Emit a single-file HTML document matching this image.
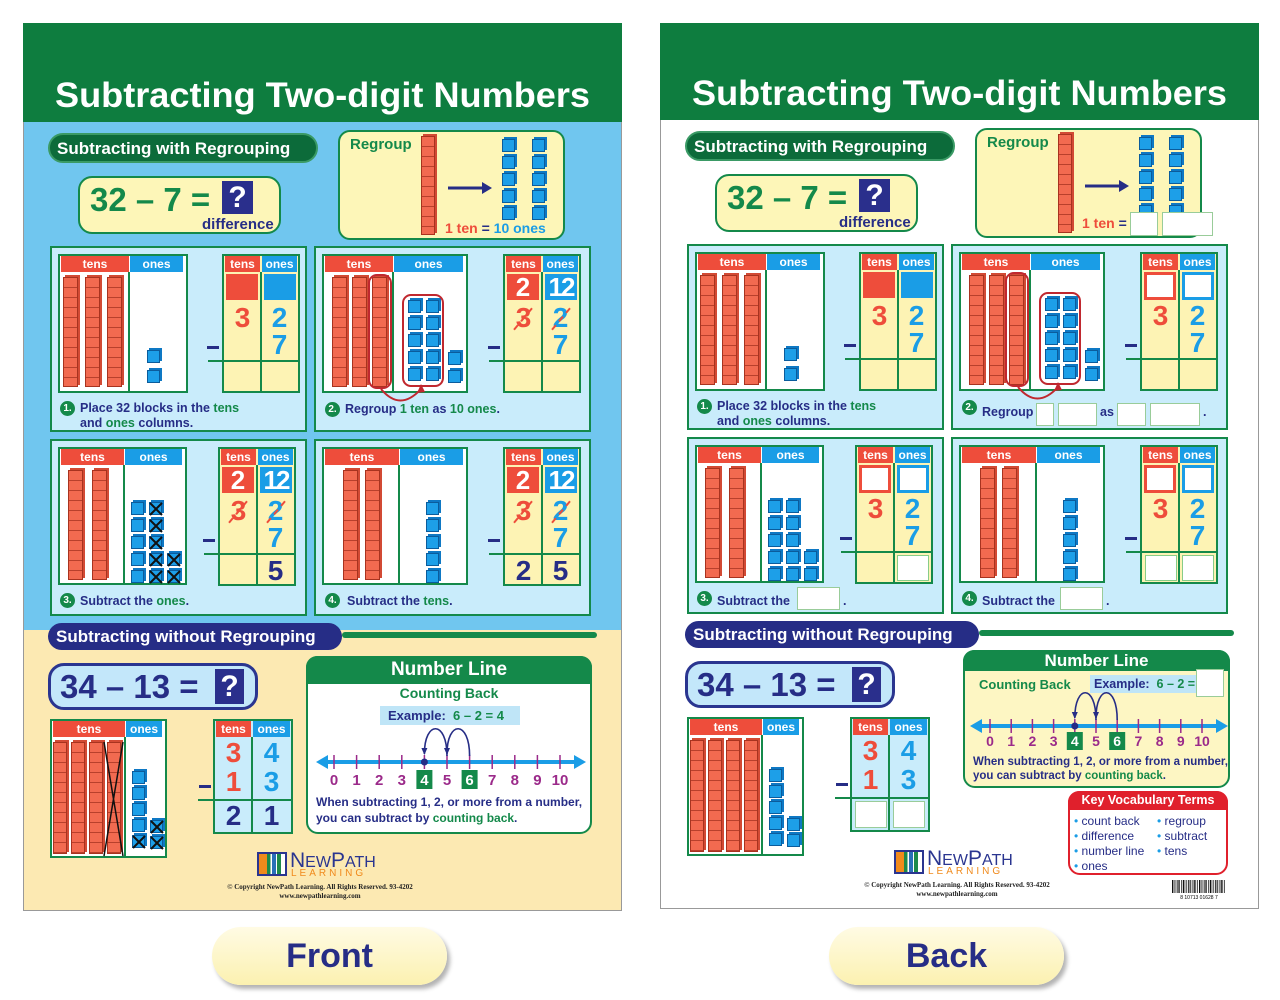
<!DOCTYPE html>
<html><head><meta charset="utf-8"><style>
body{margin:0;width:1280px;height:1000px;background:#fff;position:relative;overflow:hidden;font-family:"Liberation Sans",sans-serif}
.a{position:absolute;box-sizing:border-box}
.t{position:absolute;font-family:"Liberation Sans",sans-serif;font-weight:bold;white-space:nowrap;box-sizing:border-box}
g1{color:#14894a} r1{color:#ee4d3b} b1{color:#1a9de6}
</style></head><body>
<div id="L" class="a" style="left:0;top:0;width:640px;height:1000px"></div>
<div id="R" class="a" style="left:637px;top:-2px;width:640px;height:1000px"></div>
<script>
const G='#14894a',DG='#0c6b3a',NV='#262d86',RD='#ee4d3b',BL='#1a9de6',YL='#fdf3b4',LB='#c9ecfb',PU='#9b2a8a';
function el(p,x,y,w,h,css,txt){const d=document.createElement('div');d.className='a';d.style.cssText=`left:${x}px;top:${y}px;width:${w}px;height:${h}px;`+(css||'');if(txt!=null)d.innerHTML=txt;p.appendChild(d);return d;}
function tx(p,x,y,txt,size,color,css){const d=document.createElement('div');d.className='t';d.style.cssText=`left:${x}px;top:${y}px;font-size:${size}px;line-height:1;color:${color};`+(css||'');d.innerHTML=txt;p.appendChild(d);return d;}
function ctx(p,x,y,w,h,txt,size,color,css){return el(p,x,y,w,h,`font-weight:bold;text-align:center;font-size:${size}px;line-height:${h}px;color:${color};white-space:nowrap;`+(css||''),txt);}
function rod(p,x,y,h,w){w=w||14;el(p,x,y,w,h,`background:repeating-linear-gradient(#f26a50 0 9px,#b8402c 9px 10px);border:1px solid #a8331f;box-shadow:2px -2px 0 #d24a34`);}
function cube(p,x,y,X){const d=el(p,x,y,13,13,`background:#1d9fe8;border:1px solid #0b5c9c;box-shadow:2px -2px 0 #0e78c4`);if(X)d.innerHTML='<svg width="14" height="14" style="position:absolute;left:-1px;top:-1px"><path d="M1 1L13 13M13 1L1 13" stroke="#111" stroke-width="2"/></svg>';}
function svg(p,html){p.insertAdjacentHTML('beforeend','<svg class="a" style="left:0;top:0;overflow:visible" width="640" height="1000">'+html+'</svg>');}
function chart(p,x,y,w,h,tw){el(p,x,y,w,h,'background:#fff;border:2px solid '+G);ctx(p,x+3,y+2,tw-2,16,'tens',12,'#fff','background:'+RD);ctx(p,x+tw+2,y+2,w-tw-7,16,'ones',12,'#fff','background:'+BL);el(p,x+tw,y+18,2,h-20,'background:'+G);}
function tbl(p,x,y,tops,cross,res){
 el(p,x,y,78,139,'background:'+YL+';border:2px solid '+G);
 ctx(p,x+3,y+2,35,16,'tens',12,'#fff','background:'+RD);ctx(p,x+40,y+2,35,16,'ones',12,'#fff','background:'+BL);
 el(p,x+38,y+18,2,119,'background:'+G);el(p,x-14,y+106,92,2,'background:'+G);el(p,x-15,y+92,12,3,'background:'+NV);
 if(tops=='sq'){el(p,x+4,y+20,32,26,'background:'+RD);el(p,x+42,y+20,32,26,'background:'+BL);}
 if(tops=='num'){ctx(p,x+4,y+20,32,26,'2',26,'#fff','background:'+RD);ctx(p,x+42,y+20,32,26,'12',26,'#fff','background:'+BL+';letter-spacing:-2px');}
 if(tops=='box'){el(p,x+4,y+20,32,28,'background:#fff;border:3px solid '+RD);el(p,x+42,y+20,32,28,'background:#fff;border:3px solid '+BL);}
 ctx(p,x+3,y+50,35,28,'3',28,RD);ctx(p,x+40,y+50,35,28,'2',28,BL);ctx(p,x+40,y+77,35,28,'7',28,BL);
 if(cross){el(p,x+6,y+64,28,0,'border-top:2px dashed '+RD+';transform:rotate(-50deg)');el(p,x+44,y+64,28,0,'border-top:2px dashed '+RD+';transform:rotate(-50deg)');}
 res.forEach((v,i)=>{const xx=x+3+i*37;if(v=='B')el(p,xx+2,y+110,32,26,'background:#fff;border:1px solid #8c8');else if(v)ctx(p,xx,y+110,35,28,v,28,NV);});
}
function circ(p,x,y,n){ctx(p,x,y,15,15,n+'.',10,'#fff','background:'+G+';border-radius:50%');}
function wbox(p,x,y,w,h){el(p,x,y,w,h,'background:#fff;border:1px solid #9c9');}
function numline(p,x0,st,y,x1,x2,fs,lb){
 let s=`<line x1="${x1+8}" y1="${y}" x2="${x2-8}" y2="${y}" stroke="${BL}" stroke-width="4"/><polygon points="${x1},${y} ${x1+12},${y-7} ${x1+12},${y+7}" fill="${BL}"/><polygon points="${x2},${y} ${x2-12},${y-7} ${x2-12},${y+7}" fill="${BL}"/>`;
 for(let i=0;i<=10;i++){const x=x0+i*st;s+=`<line x1="${x}" y1="${y-7}" x2="${x}" y2="${y+7}" stroke="${PU}" stroke-width="1.5"/>`;
  if(i==4||i==6){s+=`<rect x="${x-8}" y="${lb-fs}" width="16" height="${fs+4}" fill="${G}"/><text x="${x}" y="${lb}" fill="#fff" font-size="${fs}" font-weight="bold" text-anchor="middle" font-family="Liberation Sans">${i}</text>`;}
  else s+=`<text x="${x}" y="${lb}" fill="${PU}" font-size="${fs}" font-weight="bold" text-anchor="middle" font-family="Liberation Sans">${i}</text>`;}
 const a=x0+6*st,b=x0+5*st,c=x0+4*st;
 s+=`<path d="M${a} ${y-6} C${a} ${y-42} ${b} ${y-42} ${b} ${y-8}" fill="none" stroke="${NV}" stroke-width="1.6"/><path d="M${b} ${y-6} C${b} ${y-42} ${c} ${y-42} ${c} ${y-8}" fill="none" stroke="${NV}" stroke-width="1.6"/><polygon points="${b-3},${y-14} ${b+3},${y-14} ${b},${y-7}" fill="${NV}"/><polygon points="${c-3},${y-14} ${c+3},${y-14} ${c},${y-7}" fill="${NV}"/><circle cx="${c}" cy="${y}" r="3.5" fill="${NV}"/>`;
 svg(p,s);
}
function build(p,back){
 const ty=back?25:23;
 el(p,23,ty,599,911-23+23-ty,'border:1px solid #999;background:#fff');
 if(!back){el(p,24,122,597,508,'background:#70c6ef');el(p,24,630,597,280,'background:#fce9b2');}
 el(p,23,ty,599,122-ty,'background:#0e7d3f');
 svg(p,`<text x="55" y="107" textLength="535" lengthAdjust="spacingAndGlyphs" font-family="Liberation Sans" font-weight="bold" font-size="35" fill="#fff">Subtracting Two-digit Numbers</text>`);
 el(p,48,133,270,30,'background:'+DG+';border-radius:15px;border:2px solid #3a9a65');
 tx(p,57,140,'Subtracting with Regrouping',17,'#fff');
 el(p,78,176,203,58,'background:#fdf6b8;border:2.5px solid '+G+';border-radius:14px');
 tx(p,90,183,'32 – 7 =',33,G);ctx(p,222,181,31,33,'?',30,'#fff','background:#2a2f8c');
 tx(p,202,217,'difference',15,NV);
 el(p,338,130,227,110,'background:#fdf6b8;border:2.5px solid '+G+';border-radius:12px');
 tx(p,350,137,'Regroup',15,G);rod(p,421,136,99);
 svg(p,`<line x1="448" y1="188" x2="484" y2="188" stroke="${NV}" stroke-width="3"/><polygon points="492,188 482,182 482,194" fill="${NV}"/>`);
 for(let r=0;r<5;r++){cube(p,502,139+r*17);cube(p,532,139+r*17);}
 if(!back)tx(p,445,221,'<r1>1 ten</r1> <span style="color:#262d86">=</span> <b1>10 ones</b1>',14,RD);
 else{tx(p,445,218,'1 ten <span style="color:#262d86">=</span>',14,RD);wbox(p,493,214,28,24);wbox(p,525,214,51,24);}
 [[50,246,257,186],[314,246,277,186],[50,439,257,177],[314,439,277,177]].forEach(a=>el(p,a[0],a[1],a[2],a[3],'background:'+LB+';border:2px solid '+G));
 chart(p,58,254,130,139,70);[63,85,107].forEach(x=>rod(p,x,277,110,15));cube(p,147,350);cube(p,147,370);
 tbl(p,222,254,'sq',false,['','']);
 circ(p,60,401,1);tx(p,80,402,'Place 32 blocks in the <g1>tens</g1>',12.5,NV);tx(p,80,417,'and <g1>ones</g1> columns.',12.5,NV);
 chart(p,322,254,146,139,70);[332,352,372].forEach(x=>rod(p,x,277,110,15));
 el(p,368,274,24,115,'border:2px solid #c0282f;border-radius:9px');
 for(let r=0;r<5;r++){cube(p,408,300+r*17);cube(p,426,300+r*17);}cube(p,448,352);cube(p,448,370);
 el(p,402,294,42,93,'border:2px solid #c0282f;border-radius:9px');
 svg(p,`<path d="M381 389 Q400 412 421 389" fill="none" stroke="#c0282f" stroke-width="2"/><polygon points="421,384 417,393 425,392" fill="#c0282f"/>`);
 tbl(p,503,254,back?'box':'num',!back,['','']);
 circ(p,325,402,2);
 if(!back)tx(p,345,403,'Regroup <g1>1 ten</g1> as <g1>10 ones</g1>.',12.5,NV);
 else{tx(p,345,408,'Regroup',12.5,NV);wbox(p,399,405,18,23);wbox(p,421,405,39,23);tx(p,463,408,'as',12.5,NV);wbox(p,480,405,29,23);wbox(p,513,405,50,23);tx(p,566,408,'.',12.5,NV);}
 chart(p,58,447,129,138,65);[68,92].forEach(x=>rod(p,x,470,110,15));
 for(let r=0;r<5;r++){cube(p,131,502+r*17);cube(p,149,502+r*17,!back);}cube(p,167,553,!back);cube(p,167,570,!back);
 tbl(p,218,447,back?'box':'num',!back,back?['','B']:['','5']);
 circ(p,60,593,3);
 if(!back)tx(p,80,595,'Subtract the <g1>ones</g1>.',12.5,NV);else{tx(p,80,597,'Subtract the',12.5,NV);wbox(p,160,589,43,23);tx(p,206,597,'.',12.5,NV);}
 chart(p,322,447,146,138,76);[343,365].forEach(x=>rod(p,x,470,110,15));
 for(let r=0;r<5;r++)cube(p,426,502+r*17);
 tbl(p,503,447,back?'box':'num',!back,back?['B','B']:['2','5']);
 circ(p,325,593,4);
 if(!back)tx(p,347,595,'Subtract the <g1>tens</g1>.',12.5,NV);else{tx(p,345,597,'Subtract the',12.5,NV);wbox(p,423,589,43,23);tx(p,469,597,'.',12.5,NV);}
 el(p,342,632,255,6,'background:'+G+';border-radius:3px');
 el(p,48,623,294,27,'background:'+NV+';border-radius:14px');tx(p,56,628,'Subtracting without Regrouping',17,'#fff');
 el(p,48,663,210,47,'background:#c3e7fa;border:3px solid #2a3590;border-radius:16px');
 tx(p,60,670,'34 – 13 =',33,NV);ctx(p,215,669,29,35,'?',30,'#fff','background:#2a2f8c');
 chart(p,50,719,117,139,74);[53,71,89,107].forEach(x=>rod(p,x,742,112,14));
 if(!back)svg(p,`<path d="M104 742L123 856M123 742L104 856" stroke="#111" stroke-width="1.5"/>`);
 for(let r=0;r<5;r++)cube(p,132,771+r*16,!back&&r==4);cube(p,150,820,!back);cube(p,150,836,!back);
 el(p,213,719,80,115,'background:'+LB+';border:2px solid '+G);
 ctx(p,216,721,35,16,'tens',12,'#fff','background:'+RD);ctx(p,253,721,37,16,'ones',12,'#fff','background:'+BL);
 el(p,251,737,2,95,'background:'+G);el(p,198,799,95,2,'background:'+G);el(p,199,785,12,3,'background:'+NV);
 ctx(p,216,739,35,28,'3',28,RD);ctx(p,253,739,37,28,'4',28,BL);ctx(p,216,768,35,28,'1',28,RD);ctx(p,253,768,37,28,'3',28,BL);
 if(!back){ctx(p,216,802,35,28,'2',28,NV);ctx(p,253,802,37,28,'1',28,NV);}else{wbox(p,218,803,32,27);wbox(p,256,803,32,27);}
 if(!back){
  el(p,306,656,286,178,'background:#fff;border:2.5px solid '+G+';border-radius:12px');
  el(p,306,656,286,28,'background:'+G+';border-radius:11px 11px 0 0');ctx(p,306,656,286,28,'Number Line',19,'#fff');
  ctx(p,306,685,286,16,'Counting Back',14,G);
  el(p,380,706,140,19,'background:#bfe5f7');tx(p,388,709,'Example:&nbsp; <g1>6 – 2 = 4</g1>',13,NV);
  numline(p,334,22.6,762,316,586,15,785);
  tx(p,316,796,'When subtracting 1, 2, or more from a number,',12,NV);tx(p,316,812,'you can subtract by <g1>counting back</g1>.',12,NV);
 }else{
  el(p,326,652,267,138,'background:#fdf6c3;border:2.5px solid '+G+';border-radius:12px');
  el(p,326,652,267,21,'background:'+G+';border-radius:11px 11px 0 0');ctx(p,326,652,267,21,'Number Line',17,'#fff');
  tx(p,342,680,'Counting Back',13,G);
  el(p,453,677,108,18,'background:#bfe5f7');tx(p,457,680,'Example:&nbsp; <g1>6 – 2 =</g1>',12.5,NV);wbox(p,559,671,28,28);
  numline(p,353,21.2,728,333,591,14,748);
  tx(p,336,759,'When subtracting 1, 2, or more from a number,',11.5,NV);tx(p,336,773,'you can subtract by <g1>counting back</g1>.',11.5,NV);
  el(p,431,793,160,84,'background:#fff;border:2px solid #e0202c;border-radius:12px');
  el(p,431,793,160,19,'background:#e0202c;border-radius:11px 11px 0 0');ctx(p,431,793,160,19,'Key Vocabulary Terms',12.5,'#fff');
  ['count back','difference','number line','ones'].forEach((s,i)=>tx(p,437,817+i*15,'<b1>•</b1> '+s,12,NV,'font-weight:normal'));
  ['regroup','subtract','tens'].forEach((s,i)=>tx(p,520,817+i*15,'<b1>•</b1> '+s,12,NV,'font-weight:normal'));
  let bc='';for(let i=0;i<30;i++){bc+=`<rect x="${535+i*1.8}" y="882" width="${(i%3==0)?1.2:0.7}" height="13" fill="#111"/>`;}
  svg(p,bc+`<text x="562" y="901" font-size="5" text-anchor="middle" font-family="Liberation Sans">8  10713 01628  7</text>`);
 }
 el(p,257,852,30,24,'background:linear-gradient(90deg,#f08a1c 0 30%,#1d8a4a 30% 45%,#fff 45% 50%,#2a70b8 50% 65%,#fff 65% 70%,#1d8a4a 70% 85%,#fff 85%);border:2px solid #2a3590');
 tx(p,290,850,'N<span style="font-size:16px">EW</span>P<span style="font-size:16px">ATH</span>',21,'#2a3590','font-weight:normal');
 tx(p,291,869,'LEARNING',10,'#f08a1c','letter-spacing:3px;font-weight:normal');
 ctx(p,180,883,280,8,'© Copyright NewPath Learning. All Rights Reserved. 93-4202',7,'#222','font-family:Liberation Serif');
 ctx(p,180,892,280,8,'www.newpathlearning.com',7,'#222','font-family:Liberation Serif');
}
build(document.getElementById('L'),false);
build(document.getElementById('R'),true);
const B=document.body;
el(B,212,927,235,58,'background:linear-gradient(#fffbe4,#fbf1b0);border-radius:29px;box-shadow:3px 4px 4px rgba(0,0,0,.3)');
ctx(B,212,927,235,58,'Front',34,NV);
el(B,829,927,235,58,'background:linear-gradient(#fffbe4,#fbf1b0);border-radius:29px;box-shadow:3px 4px 4px rgba(0,0,0,.3)');
ctx(B,829,927,235,58,'Back',34,NV);
</script>
</body></html>
